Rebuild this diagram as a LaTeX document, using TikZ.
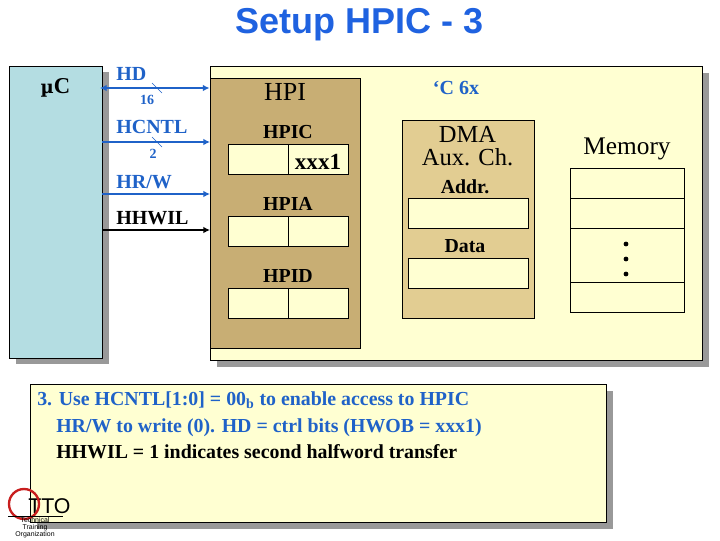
\documentclass[tikz,border=0pt]{standalone}
\usepackage{fontspec}
\setmainfont{Liberation Serif}
\setsansfont{Liberation Sans}
\usetikzlibrary{shadows,arrows.meta}
\definecolor{titleblue}{HTML}{1F62E0}
\definecolor{busblue}{HTML}{1F62C8}
\definecolor{palecream}{HTML}{FFFFD2}
\definecolor{chipblue}{HTML}{B4DDE2}
\definecolor{hpitan}{HTML}{C8AE74}
\definecolor{dmatan}{HTML}{E2CD92}
\definecolor{shadowgray}{HTML}{999999}
\definecolor{logored}{HTML}{C81E1E}

\begin{document}
\begin{tikzpicture}[x=0.75pt, y=-0.75pt,
        panel/.style={rectangle, draw, line width=0.75pt, inner sep=0pt, general shadow={fill=shadowgray, shadow xshift=4.5pt, shadow yshift=-4.5pt}},
        regbox/.style={rectangle, draw, line width=0.75pt, fill=palecream, minimum width=45pt, minimum height=22.5pt, inner sep=0pt},
        bigbox/.style={regbox, minimum width=90pt},
        membox/.style={regbox, minimum width=85.5pt},
        regname/.style={font=\fontsize{14.9}{17}\selectfont\bfseries, inner sep=0pt},
        signame/.style={font=\fontsize{15}{17}\selectfont\bfseries, inner sep=0pt, anchor=west},
        notetext/.style={font=\fontsize{14.9}{17}\selectfont\bfseries, anchor=west, inner sep=0pt},
        bus/.style={-{Latex[length=5pt,width=5pt]}, line width=1.4pt, busblue},
        buswidth/.style={font=\fontsize{10.5}{12}\selectfont\bfseries, text=busblue, inner sep=0pt}]
        \useasboundingbox (0,0) rectangle (720,540);

        \node[font=\sffamily\bfseries\fontsize{27}{30}\selectfont, text=titleblue, inner sep=0pt] (title) at (359.5,25) {Setup HPIC - 3};

        % panels
        \node[panel, fill=chipblue, minimum width=69.75pt, minimum height=219pt] (chip) at (56,212) {};
        \node[panel, fill=palecream, minimum width=369pt, minimum height=220.5pt] (c6x) at (456.5,213.5) {};
        \node[rectangle, draw, line width=0.75pt, fill=hpitan, minimum width=112.5pt, minimum height=202.5pt, inner sep=0pt] (hpi) at (285.5,213.5) {};
        \node[rectangle, draw, line width=0.75pt, fill=dmatan, minimum width=99pt, minimum height=148.5pt, inner sep=0pt] (dma) at (468.5,219.5) {};
        \node[panel, fill=palecream, minimum width=432pt, minimum height=103.5pt] (note) at (318.5,453.5) {};

        % chip and HPI text
        \node[inner sep=0pt] (chiplabel) at (55.5,88) {\fontspec{DejaVu Serif}\bfseries\fontsize{13.5}{20}\selectfont µ\fontspec{Liberation Serif}\fontsize{17}{20}\selectfont C};
        \node[font=\fontsize{19.5}{22}\selectfont, inner sep=0pt] (hpilabel) at (285,92) {HPI};
        \node[regname] (hpicname) at (288,132) {HPIC};
        \node[regname] (hpianame) at (288,204) {HPIA};
        \node[regname] (hpidname) at (288,276) {HPID};

        % registers
        \node[regbox] (hpicl) at (258.5,159.5) {};
        \node[regbox] (hpicr) at (318.5,159.5) {};
        \node[font=\fontsize{17.3}{20}\selectfont\bfseries, inner sep=0pt] (xxx) at (318,161.5) {xxx1};
        \node[regbox] (hpial) at (258.5,231.5) {};
        \node[regbox] (hpiar) at (318.5,231.5) {};
        \node[regbox] (hpidl) at (258.5,303.5) {};
        \node[regbox] (hpidr) at (318.5,303.5) {};

        % 'C6x side
        \node[font=\fontsize{15}{18}\selectfont\bfseries, text=busblue, inner sep=0pt] (c6xlabel) at (456,88) {‘C 6x};
        \node[font=\fontsize{18.4}{17.5}\selectfont, align=center, inner sep=0pt] (dmalabel) at (467.5,146) {DMA\\Aux. Ch.};
        \node[regname] (addrname) at (465,186.5) {Addr.};
        \node[regname] (dataname) at (465,246) {Data};
        \node[bigbox] (addrbox) at (468.5,213.5) {};
        \node[bigbox] (databox) at (468.5,273.5) {};
        \node[font=\fontsize{19}{22}\selectfont, inner sep=0pt] (memlabel) at (627,149) {Memory};
        \node[membox] (memA) at (627.5,183.5) {};
        \node[membox] (memB) at (627.5,213.5) {};
        \node[membox, minimum height=40.5pt] (memC) at (627.5,255.5) {};
        \node[membox] (memD) at (627.5,297.5) {};
        \foreach \dotname/\doty in {dotA/244, dotB/259, dotC/274}
            \node[circle, fill, inner sep=0pt, minimum size=3.6pt] (\dotname) at (626,\doty) {};

        % host signals
        \coordinate (hdA) at (100,88);      \coordinate (hdB) at (209.5,88);
        \coordinate (cntlA) at (102,142);   \coordinate (cntlB) at (210,142);
        \coordinate (rwA) at (102,194);     \coordinate (rwB) at (210,194);
        \coordinate (hwilA) at (102,230);   \coordinate (hwilB) at (210,230);
        \coordinate (hdtickA) at (152,83);  \coordinate (hdtickB) at (162,93);
        \coordinate (cntltickA) at (152,137); \coordinate (cntltickB) at (162,147);

        \draw[bus, {Latex[length=5pt,width=5pt]}-{Latex[length=5pt,width=5pt]}] (hdA) -- (hdB);
        \draw[bus] (cntlA) -- (cntlB);
        \draw[bus] (rwA) -- (rwB);
        \draw[bus, black] (hwilA) -- (hwilB);
        \draw[busblue, line width=0.4pt] (hdtickA) -- (hdtickB);
        \draw[busblue, line width=0.4pt] (cntltickA) -- (cntltickB);

        \node[signame, text=busblue] (hdname) at (116,74) {HD};
        \node[buswidth] (hdwidth) at (147,100) {16};
        \node[signame, text=busblue] (cntlname) at (116,127) {HCNTL};
        \node[buswidth] (cntlwidth) at (153,154) {2};
        \node[signame, text=busblue] (rwname) at (116,182) {HR/W};
        \node[signame] (hwilname) at (116,218) {HHWIL};

        % note text
        \node[notetext, text=busblue] (noteA) at (37,400) {3. Use HCNTL[1:0] = 00\textsubscript{b} to enable access to HPIC};
        \node[notetext, text=busblue] (noteB) at (56,428) {HR/W to write (0). HD = ctrl bits (HWOB = xxx1)};
        \node[notetext] (noteC) at (56,451.5) {HHWIL = 1 indicates second halfword transfer};

        % logo
        \node[font=\sffamily\fontsize{16}{18}\selectfont, anchor=west, inner sep=0pt] (ttotext) at (28,506) {TTO};
        \node[circle, draw=logored, line width=1.75pt, minimum size=22.5pt, inner sep=0pt] (ttoring) at (24,504) {};
        \coordinate (ruleA) at (8,516.5);
        \coordinate (ruleB) at (63,516.5);
        \draw[line width=0.5pt] (ruleA) -- (ruleB);
        \node[font=\sffamily\fontsize{5.2}{5.25}\selectfont, align=center, inner sep=0pt] (ttosub) at (35,528) {Technical\\Training\\Organization};
\end{tikzpicture}
\end{document}
